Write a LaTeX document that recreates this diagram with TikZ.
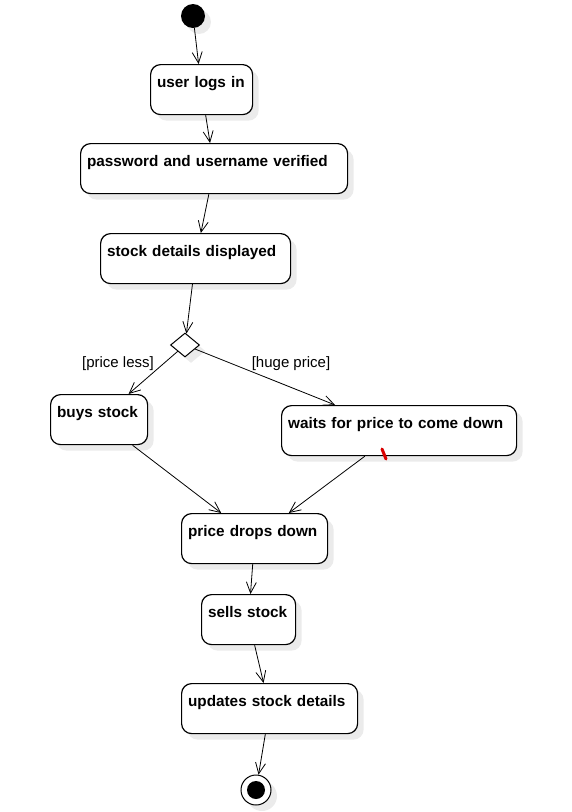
\documentclass[tikz,border=0pt]{standalone}
\usepackage{fontspec}
\setmainfont{Liberation Sans}
\usetikzlibrary{arrows.meta,shapes.geometric,shadows}

\tikzset{
  shade/.style={drop shadow={shadow xshift=6pt,shadow yshift=-6pt,fill=black!8,opacity=1}},
  act/.style={draw,line width=1.2pt,rounded corners=10pt,fill=white,anchor=north west,
    align=left,inner xsep=6.5pt,inner ysep=0pt,text height=23pt,text depth=27pt,
    font=\fontsize{15.3}{18}\selectfont\bfseries,shade},
  startstate/.style={circle,fill=black,minimum size=24pt,inner sep=0pt,shade},
  endstate/.style={circle,draw,line width=1pt,fill=white,minimum size=30pt,inner sep=0pt,
    path picture={\fill[black] (path picture bounding box.center) circle (9pt);},shade},
  choice/.style={diamond,draw,line width=1pt,fill=white,minimum width=29pt,minimum height=24pt,
    inner sep=0pt,shade},
  flow/.style={-{Straight Barb[length=11pt,width=10pt]},line width=0.8pt},
  guard/.style={font=\fontsize{15}{18}\selectfont},
}

\begin{document}
\begin{tikzpicture}[x=1pt,y=-1pt]
  \useasboundingbox (0,0) rectangle (571,812);

  % states
  \node[startstate] (init) at (193,16) {};
  \node[act,text width=89pt] (login) at (150,64) {user logs in};
  \node[act,text width=254pt] (verify) at (80,143) {password and username verified};
  \node[act,text width=177pt] (details) at (100,233) {stock details displayed};
  \node[choice] (pick) at (185,345) {};
  \node[act,text width=84pt] (buy) at (50,394) {buys stock};
  \node[act,text width=222pt] (wait) at (281,405) {waits for price to come down};
  \node[act,text width=133pt] (drop) at (181,513) {price drops down};
  \node[act,text width=81pt] (sell) at (201,594) {sells stock};
  \node[act,text width=163pt] (update) at (181,683) {updates stock details};
  \node[endstate] (final) at (256,790) {};

  % guards
  \node[guard] (lessLbl) at (118,364) {[price less]};
  \node[guard] (hugeLbl) at (291,364) {[huge price]};

  % transitions
  \draw[flow] (init) -- (login);
  \draw[flow] (login) -- (verify);
  \draw[flow] (verify) -- (details);
  \draw[flow] (details) -- (pick);
  \draw[flow] (pick) -- (buy);
  \draw[flow] (pick) -- (wait);
  \draw[flow] (buy) -- (drop);
  \draw[flow] (wait) -- (drop);
  \draw[flow] (drop) -- (sell);
  \draw[flow] (sell) -- (update);
  \draw[flow] (update) -- (final);

  % red tick on the waiting state
  \draw[red!85!black,line width=3pt,line cap=round] (382,449) -- (386,459);
\end{tikzpicture}
\end{document}
